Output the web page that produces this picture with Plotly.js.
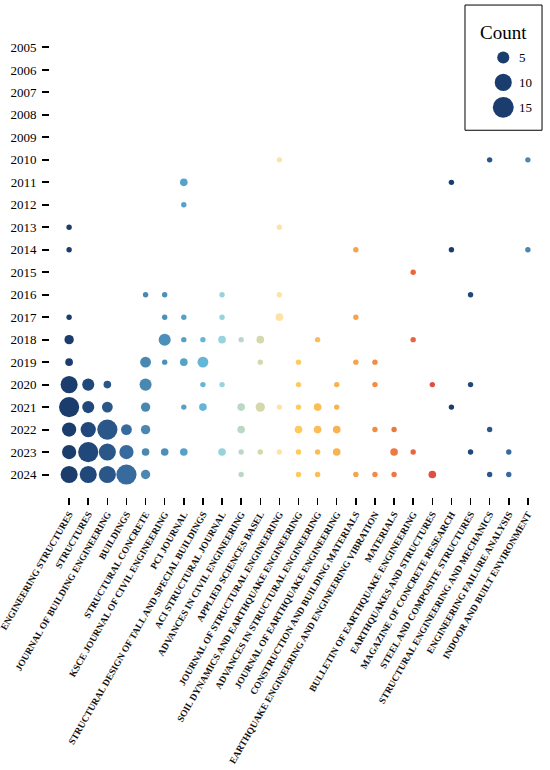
<!DOCTYPE html>
<html>
<head>
<meta charset="utf-8">
<script src="https://cdn.plot.ly/plotly-3.0.1.min.js"></script>
<style>html,body{margin:0;padding:0;background:#fff;}#chart{width:550px;height:770px;}</style>
</head>
<body>
<div id="chart"></div>
<script>
// Journals (x categories), in order
const journals = [
  "ENGINEERING STRUCTURES",
  "STRUCTURES",
  "JOURNAL OF BUILDING ENGINEERING",
  "BUILDINGS",
  "STRUCTURAL CONCRETE",
  "KSCE JOURNAL OF CIVIL ENGINEERING",
  "PCI JOURNAL",
  "STRUCTURAL DESIGN OF TALL AND SPECIAL BUILDINGS",
  "ACI STRUCTURAL JOURNAL",
  "ADVANCES IN CIVIL ENGINEERING",
  "APPLIED SCIENCES BASEL",
  "JOURNAL OF STRUCTURAL ENGINEERING",
  "SOIL DYNAMICS AND EARTHQUAKE ENGINEERING",
  "ADVANCES IN STRUCTURAL ENGINEERING",
  "JOURNAL OF EARTHQUAKE ENGINEERING",
  "CONSTRUCTION AND BUILDING MATERIALS",
  "EARTHQUAKE ENGINEERING AND ENGINEERING VIBRATION",
  "MATERIALS",
  "BULLETIN OF EARTHQUAKE ENGINEERING",
  "EARTHQUAKES AND STRUCTURES",
  "MAGAZINE OF CONCRETE RESEARCH",
  "STEEL AND COMPOSITE STRUCTURES",
  "STRUCTURAL ENGINEERING AND MECHANICS",
  "ENGINEERING FAILURE ANALYSIS",
  "INDOOR AND BUILT ENVIRONMENT"
];

// Year tick labels (y categories)
const years = [2005,2006,2007,2008,2009,2010,2011,2012,2013,2014,2015,2016,2017,2018,2019,2020,2021,2022,2023,2024];

// Publication years per journal
const pubYears = [
  [2013,2014,2017,2018,2019,2020,2021,2022,2023,2024],
  [2020,2021,2022,2023,2024],
  [2020,2021,2022,2023,2024],
  [2022,2023,2024],
  [2016,2019,2020,2021,2022,2023,2024],
  [2016,2017,2018,2019,2023],
  [2011,2012,2017,2018,2019,2021,2023],
  [2018,2019,2020,2021],
  [2016,2017,2018,2020,2023],
  [2018,2021,2022,2023,2024],
  [2018,2019,2021,2023],
  [2010,2013,2016,2017,2021,2023],
  [2019,2020,2021,2022,2023,2024],
  [2018,2021,2022,2023,2024],
  [2020,2021,2022,2023],
  [2014,2017,2019,2024],
  [2019,2020,2022,2024],
  [2022,2023,2024],
  [2015,2018,2023],
  [2020,2024],
  [2011,2014,2021],
  [2016,2020,2023],
  [2010,2022,2024],
  [2023,2024],
  [2010,2014]
];

// Publication counts per journal (matching pubYears)
const pubCounts = [
  [1,1,1,3,2,10,14,7,7,10],
  [5,5,8,14,10],
  [2,4,14,10,10],
  [4,7,14],
  [1,4,5,3,3,2,3],
  [1,1,5,1,2],
  [2,1,1,1,2,1,2],
  [1,4,1,2],
  [1,1,2,1,2],
  [1,2,2,1,1],
  [2,1,3,1],
  [1,1,1,2,1,1],
  [1,1,1,2,1,1],
  [1,2,2,1,1],
  [1,1,2,2],
  [1,1,1,1],
  [1,1,1,1],
  [1,2,1],
  [1,1,1],
  [1,2],
  [1,1,1],
  [1,1,1],
  [1,1,1],
  [1,1],
  [1,1]
];

// Legend breaks
const legendCounts = [5, 10, 15];

// Colour palette (cycled over journals)
const palette = [
  "#1b3d6d","#21487a","#2a5688","#376a9d","#4a88b2",
  "#4b90ba","#55a2c9","#64b5d8","#97d3dc","#bad8c5",
  "#d5d8ab","#fde3a6","#fdca5c","#fcbd56","#fab14f",
  "#f8a349","#f28c44","#ed7841","#e9653e","#e24f41"
];

const SIZEREF = 0.0686;
const FONT = "Liberation Serif, Times New Roman, serif";

const xs = [], ys = [], ss = [], cs = [];
journals.forEach((j, i) => {
  pubYears[i].forEach((yr, k) => {
    xs.push(j);
    ys.push(yr);
    ss.push(pubCounts[i][k]);
    cs.push(palette[i % palette.length]);
  });
});

const main = {
  type: "scatter",
  mode: "markers",
  x: xs, y: ys,
  marker: {size: ss, sizemode: "area", sizeref: SIZEREF, color: cs, opacity: 1, line: {width: 0}},
  cliponaxis: false,
  hoverinfo: "x+y+text", text: ss.map(String),
  showlegend: false
};

const legendTrace = {
  type: "scatter",
  mode: "markers",
  x: legendCounts.map(() => 0),
  y: legendCounts,
  xaxis: "x2", yaxis: "y2",
  marker: {size: legendCounts, sizemode: "area", sizeref: SIZEREF, color: palette[0], opacity: 1, line: {width: 0}},
  cliponaxis: false,
  hoverinfo: "skip",
  showlegend: false
};

const annotations = legendCounts.map(v => ({
  xref: "x2", yref: "y2", x: 0, y: v, text: String(v),
  xanchor: "left", yanchor: "middle", xshift: 14, showarrow: false,
  font: {family: FONT, size: 13, color: "#000"}
}));
annotations.push({
  xref: "paper", yref: "paper", x: 0.912, y: 0.985, text: "Count",
  xanchor: "center", yanchor: "middle", showarrow: false,
  font: {family: FONT, size: 19, color: "#000"}
});

const layout = {
  width: 550, height: 770,
  margin: {l: 50, r: 3, t: 24.5, b: 272.5, pad: 0},
  paper_bgcolor: "#fff", plot_bgcolor: "#fff",
  font: {family: FONT, color: "#000"},
  xaxis: {
    type: "category", categoryorder: "array", categoryarray: journals,
    range: [-1, journals.length],
    tickmode: "array", tickvals: journals, ticktext: journals.map(j => "<b>" + j + "</b>"),
    showgrid: false, zeroline: false, showline: false,
    ticks: "outside", ticklen: 7, tickwidth: 1.5, tickcolor: "#000",
    tickangle: -60, automargin: false,
    tickfont: {family: FONT, size: 9.5, color: "#111"}
  },
  yaxis: {
    type: "linear", range: [2025, 2004],
    tickmode: "array", tickvals: years, ticktext: years.map(String),
    showgrid: false, zeroline: false, showline: false,
    ticks: "outside", ticklen: 7, tickwidth: 2, tickcolor: "#000",
    ticklabelstandoff: 3, automargin: false,
    tickfont: {family: FONT, size: 13, color: "#000"}
  },
  xaxis2: {domain: [0.852, 0.972], range: [-1, 1], visible: false, fixedrange: true, anchor: "y2"},
  yaxis2: {domain: [0.7727, 0.9841], range: [20, 0], visible: false, fixedrange: true, anchor: "x2"},
  shapes: [{
    type: "rect", xref: "paper", yref: "paper",
    x0: 0.835, x1: 0.99, y0: 0.777, y1: 1.0423,
    line: {color: "#000", width: 1}, fillcolor: "rgba(0,0,0,0)"
  }],
  annotations: annotations,
  showlegend: false
};

Plotly.newPlot("chart", [main, legendTrace], layout, {displayModeBar: false, staticPlot: true});
</script>
</body>
</html>
